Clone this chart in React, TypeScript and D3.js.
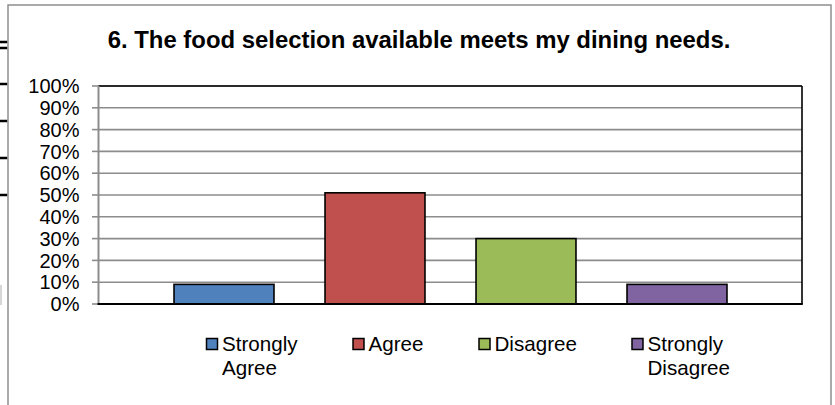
import React from "react";
import * as d3 from "d3";

const title = "6. The food selection available meets my dining needs.";
const seriesNames = ["Strongly Agree", "Agree", "Disagree", "Strongly Disagree"];
const legendLines = [["Strongly", "Agree"], ["Agree"], ["Disagree"], ["Strongly", "Disagree"]];
const seriesValues = [9, 51, 30, 9];
const seriesColors = ["#4F81BD", "#C0504D", "#9BBB59", "#8064A2"];
const yTicks = [0, 10, 20, 30, 40, 50, 60, 70, 80, 90, 100];
const legendX = [206.5, 353, 479, 632];
const sideMarks = [42, 48, 84, 121, 158, 195];

export default function App() {
  const W = 835, H = 405;
  const plot = { left: 98.5, right: 802, top: 86, bottom: 304 };
  const y = d3.scaleLinear().domain([0, 100]).range([plot.bottom, plot.top]);
  const x = d3
    .scaleBand<string>()
    .domain(seriesNames)
    .range([148.5, 752.5])
    .paddingInner(0.338)
    .paddingOuter(0.169);
  const font = "'Liberation Sans', Arial, sans-serif";
  return (
    <svg
      width={W}
      height={H}
      style={{ position: "absolute", left: 0, top: 0, background: "#fff" }}
      fontFamily={font}
    >
      {sideMarks.map((m, i) => (
        <line key={i} x1={0} x2={7.5} y1={m} y2={m} stroke="#000" strokeWidth={2.5} />
      ))}
      <line x1={1} x2={1} y1={285} y2={305} stroke="#c8c8c8" strokeWidth={1.5} />
      <rect x={8} y={5} width={823} height={410} fill="#fff" stroke="#8e8e8e" strokeWidth={1.5} />
      <text
        x={419}
        y={47.7}
        textAnchor="middle"
        fontSize={23.9}
        fontWeight="bold"
        fill="#000"
      >
        {title}
      </text>
      {yTicks.map((t) => (
        <g key={t}>
          <line
            x1={plot.left}
            x2={plot.right}
            y1={y(t)}
            y2={y(t)}
            stroke="#8c8c8c"
            strokeWidth={1.6}
          />
          <line x1={92} x2={plot.left} y1={y(t)} y2={y(t)} stroke="#8c8c8c" strokeWidth={1.6} />
          <text x={79.5} y={y(t) + 7.2} textAnchor="end" fontSize={20} fill="#000">
            {t}%
          </text>
        </g>
      ))}
      <line x1={plot.left} x2={plot.right} y1={plot.top} y2={plot.top} stroke="#000" strokeWidth={1.6} />
      <line x1={plot.right} x2={plot.right} y1={plot.top} y2={plot.bottom} stroke="#000" strokeWidth={1.6} />
      {seriesNames.map((s, i) => (
        <rect
          key={s}
          x={x(s)}
          y={y(seriesValues[i])}
          width={x.bandwidth()}
          height={y(0) - y(seriesValues[i])}
          fill={seriesColors[i]}
          stroke="#000"
          strokeWidth={1.6}
        />
      ))}
      <line x1={plot.left} x2={plot.left} y1={plot.top} y2={plot.bottom} stroke="#8c8c8c" strokeWidth={2} />
      <line x1={plot.left - 1} x2={plot.right + 0.8} y1={plot.bottom} y2={plot.bottom} stroke="#000" strokeWidth={1.8} />
      {seriesNames.map((s, i) => (
        <g key={s}>
          <rect
            x={legendX[i]}
            y={338.5}
            width={11}
            height={11}
            fill={seriesColors[i]}
            stroke="#000"
            strokeWidth={1.5}
          />
          {legendLines[i].map((ln, j) => (
            <text key={j} x={legendX[i] + 15.5} y={351 + j * 24} fontSize={20.6} fill="#000">
              {ln}
            </text>
          ))}
        </g>
      ))}
    </svg>
  );
}
